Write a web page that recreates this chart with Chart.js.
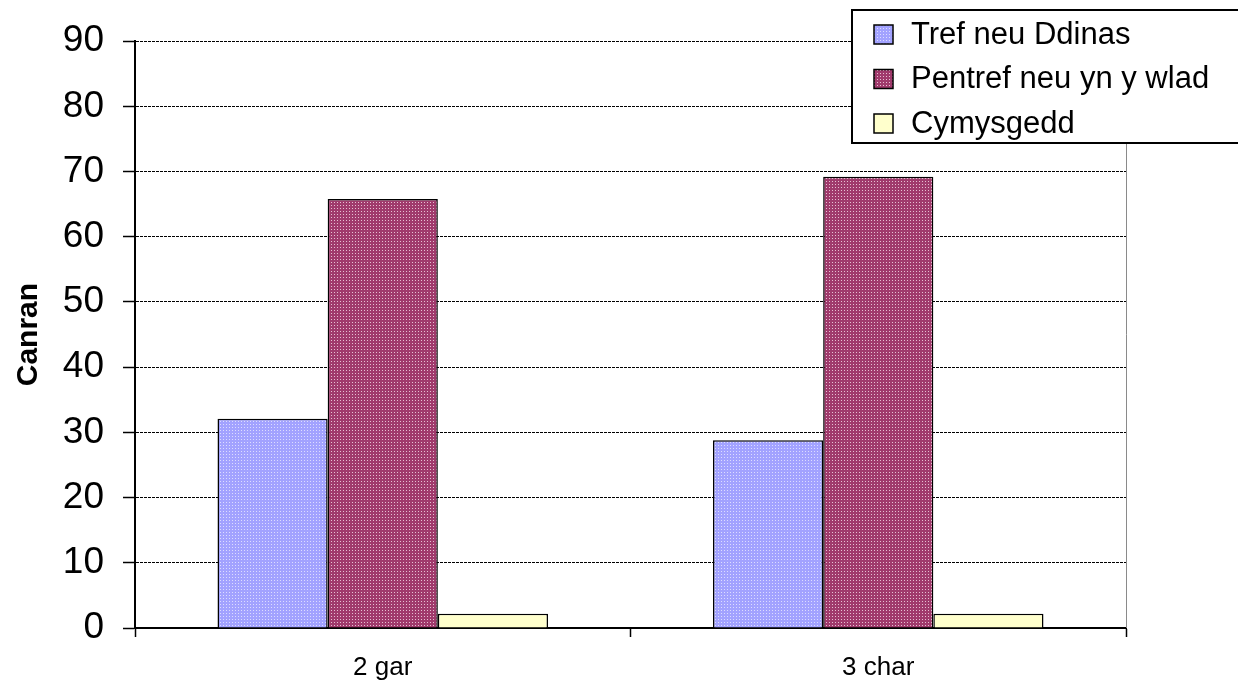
<!DOCTYPE html>
<html>
<head>
<meta charset="utf-8">
<script src="https://cdn.jsdelivr.net/npm/chart.js@4/dist/chart.umd.min.js"></script>
<style>
  html, body { margin: 0; padding: 0; background: #fff; }
  #wrap { width: 1238px; height: 684px; }
</style>
</head>
<body>
<div id="wrap"><canvas id="myChart" width="1238" height="684"></canvas></div>
<script>
// data
const categories = ['2 gar', '3 char'];
const seriesNames = ['Tref neu Ddinas', 'Pentref neu yn y wlad', 'Cymysgedd'];
const trefValues = [32.1, 28.8];
const pentrefValues = [65.8, 69.2];
const cymysgeddValues = [2.2, 2.2];
const yTicks = [0, 10, 20, 30, 40, 50, 60, 70, 80, 90];

const FONT = '"Liberation Sans", Arial, sans-serif';

// dotted fills like the old office charts
function dots(base, dot) {
  const c = document.createElement('canvas');
  c.width = 3; c.height = 3;
  const g = c.getContext('2d');
  g.fillStyle = base;
  g.fillRect(0, 0, 3, 3);
  g.fillStyle = dot;
  g.fillRect(1, 1, 1, 1);
  return g.createPattern(c, 'repeat');
}
const ctx = document.getElementById('myChart').getContext('2d');
const blueFill = dots('#a2a2ff', '#dcdcff');
const pinkFill = dots('#a03a6c', '#e6bfd2');
const yellowFill = '#ffffcc';
const fills = [blueFill, pinkFill, yellowFill];

// legend box + right border of plot
const extras = {
  id: 'extras',
  afterDraw(chart) {
    const c = chart.ctx;
    const a = chart.chartArea;
    c.save();
    c.strokeStyle = '#8a8a8a';
    c.lineWidth = 1;
    c.beginPath();
    c.moveTo(a.right + 0.5, a.top);
    c.lineTo(a.right + 0.5, a.bottom);
    c.stroke();

    // legend
    const lx = 852, ly = 10, lw = 400, lh = 133;
    c.fillStyle = '#fff';
    c.fillRect(lx, ly, lw, lh);
    c.strokeStyle = '#000';
    c.lineWidth = 2;
    c.strokeRect(lx, ly, lw, lh);
    c.font = '31px ' + FONT;
    c.textBaseline = 'middle';
    seriesNames.forEach((name, i) => {
      const cy = 34 + i * 44.5;
      c.fillStyle = fills[i];
      c.fillRect(874, cy - 9, 19, 19);
      c.lineWidth = 1.5;
      c.strokeStyle = '#000';
      c.strokeRect(874, cy - 9, 19, 19);
      c.fillStyle = '#000';
      c.fillText(name, 911, cy + 1);
    });
    c.restore();
  }
};

const data = {
  labels: categories,
  datasets: [{
    label: seriesNames[0],
    data: trefValues,
    backgroundColor: blueFill,
    borderColor: '#000',
    borderWidth: 1.5
  }, {
    label: seriesNames[1],
    data: pentrefValues,
    backgroundColor: pinkFill,
    borderColor: '#000',
    borderWidth: 1.5
  }, {
    label: seriesNames[2],
    data: cymysgeddValues,
    backgroundColor: yellowFill,
    borderColor: '#000',
    borderWidth: 1.5
  }]
};

const config = {
  type: 'bar',
  data,
  options: {
    responsive: false,
    animation: false,
    layout: { padding: { top: 40, right: 112, left: 0, bottom: 0 } },
    datasets: { bar: { barPercentage: 1, categoryPercentage: 0.667 } },
    scales: {
      x: {
        offset: true,
        grid: {
          offset: true,
          drawOnChartArea: false,
          color: '#000',
          tickLength: 9,
          tickWidth: 1.5
        },
        border: { color: '#000', width: 2 },
        ticks: {
          color: '#000',
          padding: 15,
          font: { size: 26, family: FONT }
        },
        afterFit(scale) { scale.height = 56; }
      },
      y: {
        min: 0,
        max: 90,
        afterBuildTicks(scale) { scale.ticks = yTicks.map(v => ({ value: v })); },
        grid: {
          color: '#000',
          lineWidth: 1,
          tickLength: 12,
          tickColor: '#000',
          tickWidth: 1.5,
          tickBorderDash: []
        },
        border: { color: '#000', width: 2, dash: [3, 1] },
        ticks: {
          color: '#000',
          padding: 19,
          font: { size: 37, family: FONT }
        },
        title: {
          display: true,
          text: 'Canran',
          color: '#000',
          padding: { top: 11, bottom: 0 },
          font: { size: 30, weight: 'bold', family: FONT }
        },
        afterFit(scale) { scale.width = 135; }
      }
    },
    plugins: {
      legend: { display: false },
      tooltip: { enabled: false }
    }
  },
  plugins: [extras]
};

const myChart = new Chart(ctx, config);
</script>
</body>
</html>
